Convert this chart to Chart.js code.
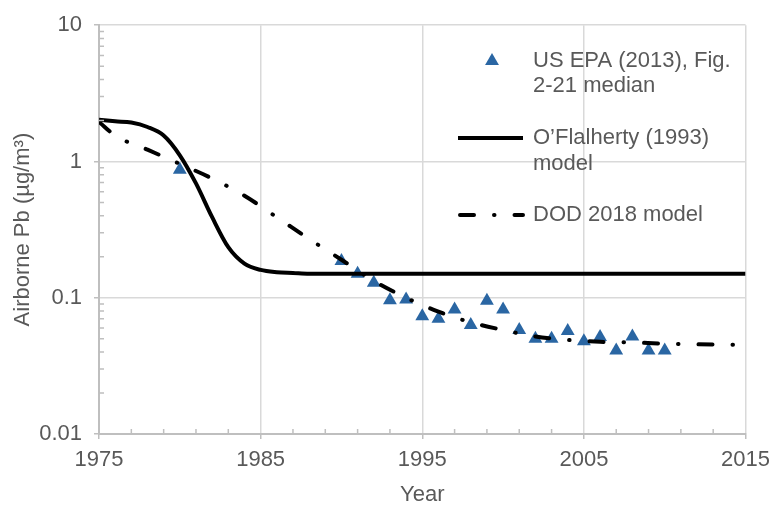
<!DOCTYPE html>
<html>
<head>
<meta charset="utf-8">
<title>Airborne Pb</title>
<script src="https://cdn.jsdelivr.net/npm/chart.js@4.4.0/dist/chart.umd.min.js"></script>
<style>
  html, body { margin: 0; padding: 0; background: #fff; }
  #wrap { width: 778px; height: 508px; }
</style>
</head>
<body>
<div id="wrap"><canvas id="pbChart" width="778" height="508"></canvas></div>
<script>
// =====================
// Data
// =====================
const epaYears = [1980, 1990, 1991, 1992, 1993, 1994, 1995, 1996, 1997, 1998, 1999,
  2000, 2001, 2002, 2003, 2004, 2005, 2006, 2007, 2008, 2009, 2010];
const epaValues = [0.87, 0.186, 0.15, 0.129, 0.096, 0.097, 0.073, 0.070, 0.082, 0.063, 0.095,
  0.082, 0.058, 0.050, 0.050, 0.057, 0.048, 0.0515, 0.041, 0.052, 0.041, 0.041];

const oflYears = [1975, 1976, 1977, 1978, 1979, 1980, 1981, 1982, 1983, 1984, 1985, 1986, 1987, 1988, 2015];
const oflValues = [2.02, 1.97, 1.93, 1.79, 1.55, 1.11, 0.69, 0.39, 0.235, 0.178, 0.16, 0.154, 0.152, 0.15, 0.15];

const dodYears = [1975, 1976, 1978, 1980, 1982, 1984, 1986, 1988, 1990, 1992, 1994, 1996, 1998,
  2000, 2002, 2004, 2006, 2008, 2010, 2015];
const dodValues = [1.95, 1.55, 1.22, 0.96, 0.75, 0.56, 0.39, 0.27, 0.19, 0.133, 0.1, 0.079, 0.066,
  0.058, 0.052, 0.049, 0.0475, 0.047, 0.046, 0.045];

const xTickYears = [1975, 1985, 1995, 2005, 2015];
const yTickValues = [0.01, 0.1, 1, 10];

const legendLabels = [
  ['US EPA (2013), Fig.', '2-21 median'],
  ['O\u2019Flalherty (1993)', 'model'],
  ['DOD 2018 model']
];

// =====================
// Styles
// =====================
const textGrey = '#595959';
const axisGrey = '#bfbfbf';
const gridGrey = '#d9d9d9';
const epaBlue = '#2a66a3';
const dodDash = [14, 20, 0.5, 20];
const markerRadius = 8;
const fontFamily = "'Liberation Sans', Arial, sans-serif";

Chart.defaults.font.family = fontFamily;
Chart.defaults.color = textGrey;

const toPoints = (xs, ys) => xs.map((x, i) => ({ x, y: ys[i] }));

// =====================
// Minor tick marks (inside the plot)
// =====================
const minorTicks = {
  id: 'minorTicks',
  afterDraw(chart) {
    const { ctx, scales: { x, y } } = chart;
    ctx.save();
    ctx.strokeStyle = axisGrey;
    ctx.lineWidth = 1.5;
    ctx.beginPath();
    for (let yr = 1977; yr < 2015; yr += 2) {
      if ((yr - 1975) % 10 === 0) continue;
      const px = x.getPixelForValue(yr);
      ctx.moveTo(px, y.bottom);
      ctx.lineTo(px, y.bottom - 5);
    }
    for (let e = -2; e < 1; e++) {
      for (let k = 2; k < 10; k++) {
        const py = y.getPixelForValue(k * Math.pow(10, e));
        ctx.moveTo(x.left, py);
        ctx.lineTo(x.left + 5, py);
      }
    }
    ctx.stroke();
    ctx.restore();
  }
};

// =====================
// Legend drawn inside the plot
// =====================
const insideLegend = {
  id: 'insideLegend',
  afterDraw(chart) {
    const { ctx } = chart;
    const textX = 533;
    ctx.save();
    ctx.font = '22px ' + fontFamily;
    ctx.fillStyle = textGrey;
    ctx.textAlign = 'left';
    ctx.textBaseline = 'middle';

    // triangle marker
    const tx = 492, ty = 61, r = markerRadius;
    ctx.beginPath();
    ctx.moveTo(tx, ty - r);
    ctx.lineTo(tx + r * Math.sqrt(3) / 2, ty + r / 2);
    ctx.lineTo(tx - r * Math.sqrt(3) / 2, ty + r / 2);
    ctx.closePath();
    ctx.fillStyle = epaBlue;
    ctx.fill();
    ctx.fillStyle = textGrey;
    ctx.fillText(legendLabels[0][0], textX, 61);
    ctx.fillText(legendLabels[0][1], textX, 86);

    // solid line
    ctx.strokeStyle = '#000';
    ctx.lineWidth = 4;
    ctx.beginPath();
    ctx.moveTo(458, 138);
    ctx.lineTo(523, 138);
    ctx.stroke();
    ctx.fillText(legendLabels[1][0], textX, 138);
    ctx.fillText(legendLabels[1][1], textX, 164);

    // dash-dot line
    ctx.lineCap = 'round';
    ctx.setLineDash(dodDash);
    ctx.beginPath();
    ctx.moveTo(460, 215);
    ctx.lineTo(523, 215);
    ctx.stroke();
    ctx.setLineDash([]);
    ctx.fillText(legendLabels[2][0], textX, 215);
    ctx.restore();
  }
};

// =====================
// Render Chart
// =====================
const ctx = document.getElementById('pbChart').getContext('2d');
new Chart(ctx, {
  type: 'scatter',
  data: {
    datasets: [
      {
        label: 'O\u2019Flalherty (1993) model',
        data: toPoints(oflYears, oflValues),
        showLine: true,
        borderColor: '#000',
        borderWidth: 4,
        pointRadius: 0,
        cubicInterpolationMode: 'monotone',
        order: 0
      },
      {
        label: 'DOD 2018 model',
        data: toPoints(dodYears, dodValues),
        showLine: true,
        borderColor: '#000',
        borderWidth: 4,
        borderDash: dodDash,
        borderCapStyle: 'round',
        pointRadius: 0,
        cubicInterpolationMode: 'monotone',
        order: 0
      },
      {
        label: 'US EPA (2013), Fig. 2-21 median',
        data: toPoints(epaYears, epaValues),
        pointStyle: 'triangle',
        pointRadius: markerRadius,
        backgroundColor: epaBlue,
        borderColor: epaBlue,
        borderWidth: 0,
        order: 1
      }
    ]
  },
  options: {
    responsive: false,
    animation: false,
    layout: { padding: { top: 24, right: 26, left: 0, bottom: 0 } },
    plugins: {
      legend: { display: false },
      tooltip: { enabled: false }
    },
    scales: {
      x: {
        type: 'linear',
        min: 1975,
        max: 2015,
        afterBuildTicks: (scale) => { scale.ticks = xTickYears.map(v => ({ value: v })); },
        afterFit: (scale) => { scale.height = 74; },
        ticks: {
          font: { size: 22 },
          color: textGrey,
          padding: 8,
          maxRotation: 0,
          autoSkip: false,
          callback: (v) => String(v)
        },
        grid: { color: gridGrey, lineWidth: 1.5, tickColor: axisGrey, tickLength: 5 },
        border: { color: axisGrey, width: 2 },
        title: { display: true, text: 'Year', font: { size: 22 }, color: textGrey, padding: { top: 0, bottom: 0 } }
      },
      y: {
        type: 'logarithmic',
        min: 0.01,
        max: 10,
        afterBuildTicks: (scale) => { scale.ticks = yTickValues.map(v => ({ value: v })); },
        afterFit: (scale) => { scale.width = 99; },
        ticks: {
          font: { size: 22 },
          color: textGrey,
          padding: 12,
          autoSkip: false,
          callback: (v) => String(v)
        },
        grid: { color: gridGrey, lineWidth: 1.5, tickColor: axisGrey, tickLength: 5 },
        border: { color: axisGrey, width: 2 },
        title: { display: true, text: 'Airborne Pb (\u00b5g/m\u00b3)', font: { size: 22 }, color: textGrey, padding: { top: 10, bottom: 0 } }
      }
    }
  },
  plugins: [minorTicks, insideLegend]
});
</script>
</body>
</html>
